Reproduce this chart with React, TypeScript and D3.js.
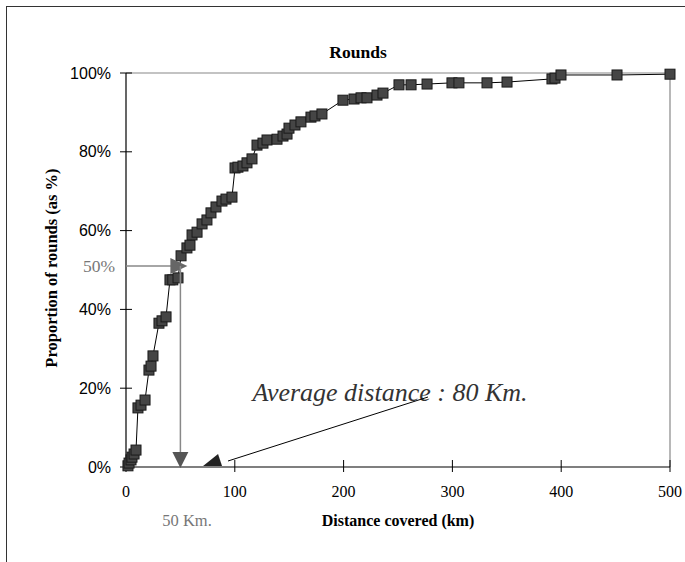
import React from "react";
import * as d3 from "d3";

const distances = [1.8, 2.8, 4.6, 5.5, 7.4, 9.2, 11, 13.8, 17.5, 21.1, 23, 24.8, 30.3, 33.1, 36.8, 40.4, 43, 47.8, 50.6, 56, 58.8, 60.7, 65.3, 69.9, 74.4, 78.1, 82.7, 88.2, 91.9, 97.4, 100.2, 102.9, 107.5, 111.2, 115.8, 120.4, 125.9, 129.6, 138.8, 144.3, 148, 149.8, 155.3, 160.8, 170, 173.7, 180.1, 199.4, 209.6, 216, 221.5, 230.7, 236.2, 250.9, 262, 276.7, 299.6, 306, 331.8, 350.2, 391.5, 394.3, 399.8, 451.3, 500];
const proportions = [0.3, 1.0, 1.8, 2.5, 3.3, 4.3, 15.0, 15.7, 17.0, 24.6, 25.6, 28.2, 36.5, 37.1, 38.1, 47.5, 47.5, 48.0, 53.6, 55.6, 56.3, 58.9, 59.6, 61.7, 62.7, 64.5, 66.0, 67.5, 68.0, 68.5, 75.9, 76.1, 76.4, 77.2, 78.2, 81.7, 82.2, 83.0, 83.2, 84.0, 84.5, 86.0, 86.8, 87.6, 88.8, 89.1, 89.6, 93.1, 93.4, 93.7, 93.7, 94.4, 94.9, 97.0, 97.0, 97.2, 97.5, 97.5, 97.5, 97.7, 98.5, 98.7, 99.5, 99.5, 99.7];
const xTicks = [0, 100, 200, 300, 400, 500];
const yTicks = [0, 20, 40, 60, 80, 100];

const title = "Rounds";
const xTitle = "Distance covered (km)";
const yTitle = "Proportion of rounds (as %)";
const medianKm = 50;
const medianPct = 51;
const averageKm = 80;

export default function App() {
  const x = d3.scaleLinear().domain([0, 500]).range([126, 670]);
  const y = d3.scaleLinear().domain([0, 100]).range([467, 73]);
  const pts: [number, number][] = distances.map((d, i) => [d, proportions[i]]);
  const line = d3.line<[number, number]>().x((d) => x(d[0])).y((d) => y(d[1]));
  const serif = "'Liberation Serif', 'Times New Roman', serif";
  const sans = "'Liberation Sans', Arial, sans-serif";
  const mx = x(medianKm);
  const my = y(medianPct);
  const ax = x(averageKm) + 1;
  return (
    <svg width={685} height={562} style={{ position: "absolute", left: 0, top: 0, background: "#fff" }}>
      <rect x={0} y={0} width={685} height={562} fill="#fff" />
      <rect x={6.5} y={6.5} width={720} height={600} fill="none" stroke="#333" strokeWidth={1} />
      {/* plot frame top/right */}
      <line x1={x(0)} x2={x(500)} y1={y(100)} y2={y(100)} stroke="#888" strokeWidth={1.2} />
      <line x1={x(500)} x2={x(500)} y1={y(100)} y2={y(0)} stroke="#888" strokeWidth={1.2} />
      {/* axes */}
      <line x1={x(0)} x2={x(0)} y1={y(100)} y2={y(0)} stroke="#000" strokeWidth={1.2} />
      <line x1={x(0)} x2={x(500)} y1={y(0)} y2={y(0)} stroke="#000" strokeWidth={1.2} />
      {yTicks.map((t) => (
        <g key={"y" + t}>
          <line x1={x(0) - 6} x2={x(0) + 6} y1={y(t)} y2={y(t)} stroke="#000" strokeWidth={1} />
          <text x={x(0) - 15} y={y(t)} dy="0.35em" textAnchor="end" fontFamily={sans} fontSize={16} fill="#000">
            {t + "%"}
          </text>
        </g>
      ))}
      {xTicks.map((t) => (
        <g key={"x" + t}>
          <line x1={x(t)} x2={x(t)} y1={y(0) - 7} y2={y(0) + 5} stroke="#000" strokeWidth={1} />
          <text x={x(t)} y={y(0) + 30} textAnchor="middle" fontFamily={serif} fontSize={16} fill="#000">
            {t}
          </text>
        </g>
      ))}
      {/* titles */}
      <text x={358} y={58} textAnchor="middle" fontFamily={serif} fontWeight="bold" fontSize={17.5}>{title}</text>
      <text x={398} y={526} textAnchor="middle" fontFamily={serif} fontWeight="bold" fontSize={16}>{xTitle}</text>
      <text transform="translate(57,268) rotate(-90)" textAnchor="middle" fontFamily={serif} fontWeight="bold" fontSize={16.5}>{yTitle}</text>
      {/* data */}
      <path d={line(pts) || ""} fill="none" stroke="#000" strokeWidth={1} />
      {pts.map((p, i) => (
        <rect key={i} x={x(p[0]) - 5} y={y(p[1]) - 5} width={10} height={10} fill="#454545" stroke="#1a1a1a" strokeWidth={1} />
      ))}
      {/* median annotation */}
      <text x={115} y={my} dy="0.35em" textAnchor="end" fontFamily={serif} fontSize={17.5} fill="#777">50%</text>
      <line x1={x(0)} x2={mx - 6} y1={my} y2={my} stroke="#888" strokeWidth={1.5} />
      <path d={`M${mx - 10},${my - 8} L${mx + 7},${my} L${mx - 10},${my + 8} Z`} fill="#666" />
      <line x1={mx} x2={mx} y1={my} y2={y(0) - 12} stroke="#888" strokeWidth={1.5} />
      <path d={`M${mx - 8},${y(0) - 15} L${mx + 8},${y(0) - 15} L${mx},${y(0) + 1} Z`} fill="#555" />
      <text x={187} y={526} textAnchor="middle" fontFamily={serif} fontSize={16.5} fill="#777">50 Km.</text>
      {/* average annotation */}
      <text x={390} y={401} textAnchor="middle" fontFamily={serif} fontStyle="italic" fontSize={26} fill="#333">Average distance : 80 Km.</text>
      <line x1={428} y1={397} x2={228} y2={461} stroke="#000" strokeWidth={1} />
      <path d={`M${ax - 11},${y(0) - 1} L${ax + 4},${y(0) - 13} L${ax + 8},${y(0) - 1} Z`} fill="#222" />
    </svg>
  );
}
